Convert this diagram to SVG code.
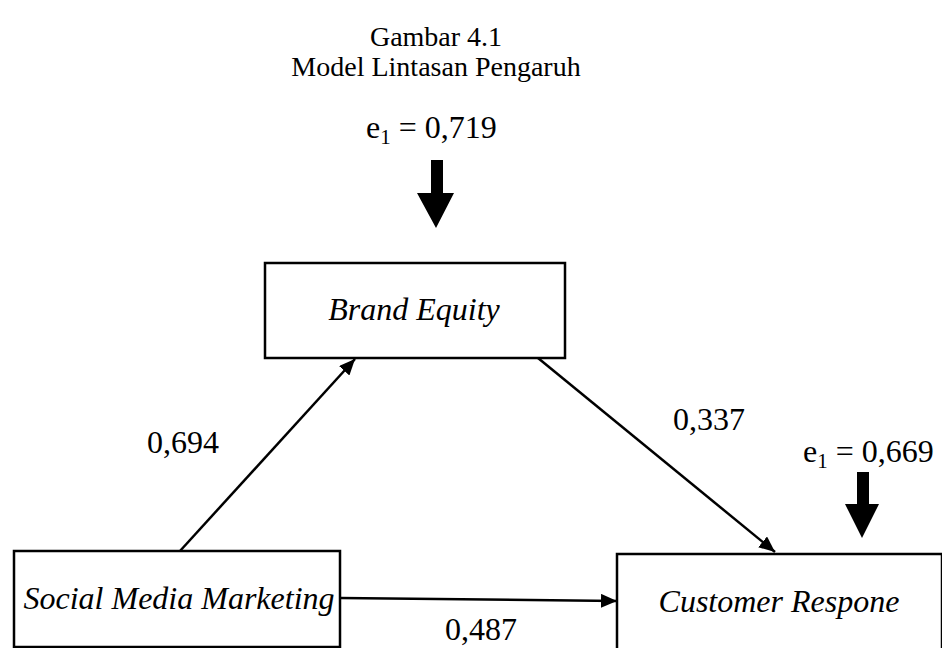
<svg xmlns="http://www.w3.org/2000/svg" width="942" height="648" viewBox="0 0 942 648">
<defs>
<style>
text{font-family:"Liberation Serif","Times New Roman",serif;font-size:32px;fill:#000}
.ttl{font-size:28px}
.it{font-style:italic}
.box{fill:#fff;stroke:#000;stroke-width:2.5}
.ln{stroke:#000;stroke-width:2.5;fill:none}
.blk{fill:#000}
</style>
<marker id="arr" viewBox="0 0 16 14" refX="16" refY="7" markerWidth="16" markerHeight="14" markerUnits="userSpaceOnUse" orient="auto">
<path d="M0,0 L16,7 L0,14 Z" fill="#000"/>
</marker>
</defs>
<text class="ttl" x="436" y="46" text-anchor="middle">Gambar 4.1</text>
<text class="ttl" x="436" y="76" text-anchor="middle">Model Lintasan Pengaruh</text>
<g id="connectors">
<line class="ln" x1="180" y1="551" x2="355" y2="359" marker-end="url(#arr)"/>
<line class="ln" x1="538" y1="358" x2="775" y2="552" marker-end="url(#arr)"/>
<line class="ln" x1="340" y1="598" x2="617" y2="601" marker-end="url(#arr)"/>
<polygon class="blk" points="431,160 443,160 443,193 454,193 436,228 417,193 431,193"/>
<polygon class="blk" points="857,472 869,472 869,504 879,504 862,538 845,504 857,504"/>
</g>
<g id="e1-top"><text x="366" y="138">e<tspan font-size="21" dy="6">1</tspan><tspan dy="-6"> = 0,719</tspan></text></g>
<g id="e1-right"><text x="803" y="462">e<tspan font-size="21" dy="6">1</tspan><tspan dy="-6"> = 0,669</tspan></text></g>
<g id="brand-equity"><rect class="box" x="265" y="263" width="300" height="95"/><text class="it" x="414" y="320" text-anchor="middle">Brand Equity</text></g>
<g id="social-media-marketing"><rect class="box" x="14" y="551" width="326" height="96"/><text class="it" x="179" y="609" text-anchor="middle">Social Media Marketing</text></g>
<g id="customer-respone"><rect class="box" x="617" y="554" width="325" height="96"/><text class="it" x="779" y="612" text-anchor="middle">Customer Respone</text></g>
<g id="labels">
<text x="147" y="453">0,694</text>
<text x="673" y="430">0,337</text>
<text x="445" y="640">0,487</text>
</g>
</svg>
